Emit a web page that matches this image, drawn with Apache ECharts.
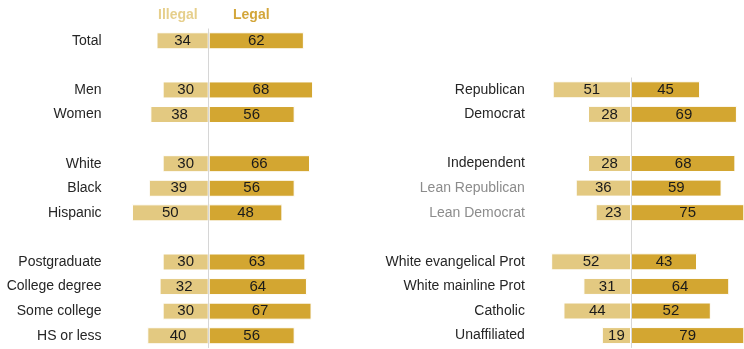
<!DOCTYPE html>
<html>
<head>
<meta charset="utf-8">
<script src="https://cdn.jsdelivr.net/npm/echarts@6/dist/echarts.min.js"></script>
<style>
  html, body { margin: 0; padding: 0; background: #fff; }
  #chart { width: 744px; height: 349px; }
</style>
</head>
<body>
<div id="chart"></div>
<script>
// Demographic groups (left column); blank entries are spacer rows
const leftRows = ['Total', '', 'Men', 'Women', '', 'White', 'Black', 'Hispanic', '',
  'Postgraduate', 'College degree', 'Some college', 'HS or less'];
const leftIllegal = [34, null, 30, 38, null, 30, 39, 50, null, 30, 32, 30, 40];
const leftLegal = [62, null, 68, 56, null, 66, 56, 48, null, 63, 64, 67, 56];

// Party and religion groups (right column)
const rightRows = ['Republican', 'Democrat', '', 'Independent', 'Lean Republican', 'Lean Democrat', '',
  'White evangelical Prot', 'White mainline Prot', 'Catholic', 'Unaffiliated'];
const rightIllegal = [51, 28, null, 28, 36, 23, null, 52, 31, 44, 19];
const rightLegal = [45, 69, null, 68, 59, 75, null, 43, 64, 52, 79];

const mutedRows = ['Lean Republican', 'Lean Democrat'];

const ILLEGAL = '#e3c981';
const LEGAL = '#d3a631';
const FONT = '"Liberation Sans", Arial, sans-serif';
const ROW = 24.58;
const PX_PER_UNIT = 1.535;

const chart = echarts.init(document.getElementById('chart'), null, { renderer: 'canvas' });

function grid(centerX, top, rows, minV, maxV) {
  return {
    left: centerX + minV * PX_PER_UNIT,
    width: (maxV - minV) * PX_PER_UNIT,
    top: top,
    height: rows * ROW
  };
}

function xAxis(gridIndex, minV, maxV) {
  return {
    type: 'value', gridIndex, min: minV, max: maxV,
    show: false, splitLine: { show: false }
  };
}

function yAxis(gridIndex, rows, margin) {
  return {
    type: 'category', gridIndex, data: rows, inverse: true,
    axisLine: { show: false }, axisTick: { show: false }, splitLine: { show: false },
    axisLabel: {
      margin: margin, fontFamily: FONT, fontSize: 14,
      color: (v) => mutedRows.indexOf(v) >= 0 ? '#8c8c8c' : '#262626'
    }
  };
}

function barSeries(idx, values, color, negative, withLine) {
  const s = {
    type: 'bar', xAxisIndex: idx, yAxisIndex: idx, stack: 'g' + idx,
    barWidth: 17,
    data: values.map(v => v == null ? null : (negative ? -v : v)),
    itemStyle: { color: color, borderColor: '#fff', borderWidth: 1 },
    label: {
      show: true, position: 'inside', color: '#1a1a1a',
      fontFamily: FONT, fontSize: 15,
      formatter: p => Math.abs(p.value)
    },
    silent: true
  };
  if (withLine) {
    s.markLine = {
      silent: true, symbol: 'none', label: { show: false },
      lineStyle: { color: '#d6d6d6', width: 1, type: 'solid' },
      data: [{ xAxis: 0 }]
    };
  }
  return s;
}

// The right column runs off the page edge, so its axis stops at the edge
const option = {
  animation: false,
  backgroundColor: '#fff',
  grid: [
    grid(208.7, 28.5, leftRows.length, -60, 70),
    grid(631, 77.5, rightRows.length, -60, 73.5)
  ],
  xAxis: [xAxis(0, -60, 70), xAxis(1, -60, 73.5)],
  yAxis: [yAxis(0, leftRows, 15), yAxis(1, rightRows, 14)],
  series: [
    barSeries(0, leftIllegal, ILLEGAL, true, true),
    barSeries(0, leftLegal, LEGAL, false, false),
    barSeries(1, rightIllegal, ILLEGAL, true, true),
    barSeries(1, rightLegal, LEGAL, false, false)
  ],
  graphic: [
    { type: 'text', left: 158, top: 8,
      style: { text: 'Illegal', fill: '#e6cf8c', font: 'bold 14px ' + FONT } },
    { type: 'text', left: 233, top: 8,
      style: { text: 'Legal', fill: '#d3a63a', font: 'bold 14px ' + FONT } }
  ]
};

chart.setOption(option);
</script>
</body>
</html>
